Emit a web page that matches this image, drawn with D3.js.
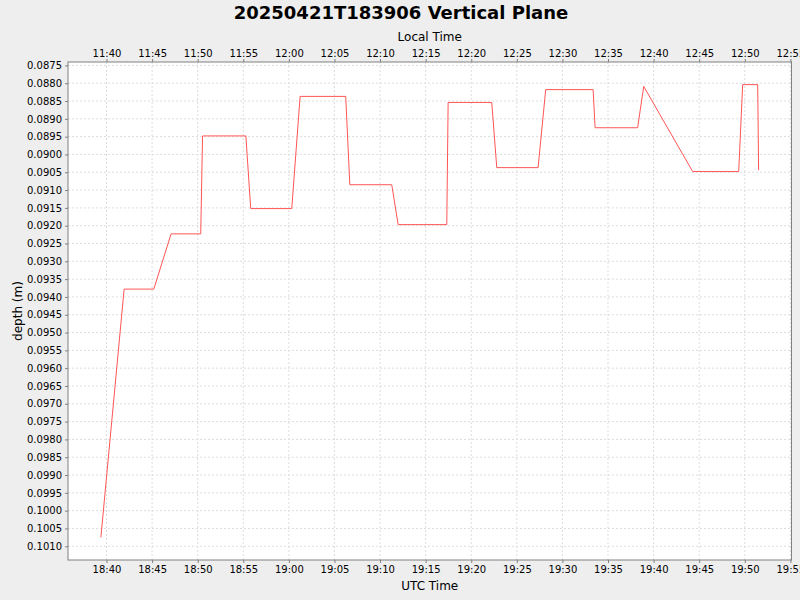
<!DOCTYPE html>
<html>
	<head>
		<meta charset="UTF-8">
		<script src="https://d3js.org/d3.v7.min.js"></script>
		<style>
			body { margin: 0; background: #EEEEEE; }
			.Chart text { font-family: "DejaVu Sans", sans-serif; fill: #000; }
			.Tick text { font-size: 10px; }
			.Grid line { stroke: #DDDDDD; stroke-dasharray: 2,2; }
		</style>
	</head>
	<body>
		<svg class="Chart"></svg>
		<script type="text/javascript">
			// UTC sample times (2025-04-21) and depth in metres
			var UtcTimes = ["18:39:23","18:41:56","18:45:11","18:47:05","18:50:20","18:50:32","18:55:17","18:55:49",
							"19:00:19","19:01:14","19:06:14","19:06:41","19:11:17","19:11:59","19:17:19","19:17:28",
							"19:22:15","19:22:48","19:27:20","19:28:10","19:33:22","19:33:35","19:38:15","19:38:55",
							"19:44:17","19:49:20","19:49:46","19:51:25","19:51:31"];
			var Depths = [0.10075,0.09378,0.09378,0.09223,0.09223,0.08948,0.08948,0.09152,
						  0.09152,0.08837,0.08837,0.09085,0.09085,0.09197,0.09197,0.08854,
						  0.08854,0.09037,0.09037,0.08818,0.08818,0.08925,0.08925,0.08809,
						  0.09048,0.09048,0.08804,0.08804,0.09044];
			var UtcTicks = ["18:40","18:45","18:50","18:55","19:00","19:05","19:10","19:15",
							"19:20","19:25","19:30","19:35","19:40","19:45","19:50","19:55"];
			var DepthTicks = d3.range(28).map(function(i){ return +(0.0875 + i*0.0005).toFixed(4); });
			var LocalOffsetHours = -7;

			var Width = 800, Height = 600;
			var Plot = {"Left":68, "Top":62, "Right":791.5, "Bottom":560};

			var ParseTime = function(s){ return new Date("2025-04-21T" + (s.length === 5 ? s + ":00" : s) + "Z"); };
			var DataArr = UtcTimes.map(function(t, i){ return {"Time":ParseTime(t), "Depth":Depths[i]}; });

			// 5% margin on both axes
			var TExt = d3.extent(DataArr, function(d){ return d.Time; });
			var TPad = (TExt[1] - TExt[0]) * 0.05;
			var DExt = d3.extent(DataArr, function(d){ return d.Depth; });
			var DPad = (DExt[1] - DExt[0]) * 0.05;

			var XScale = d3.scaleUtc()
							.domain([new Date(+TExt[0] - TPad), new Date(+TExt[1] + TPad)])
							.range([Plot.Left, Plot.Right]);
			var LocalScale = d3.scaleUtc()
							.domain(XScale.domain().map(function(d){ return new Date(+d + LocalOffsetHours*3600000); }))
							.range([Plot.Left, Plot.Right]);
			var YScale = d3.scaleLinear()
							.domain([DExt[0] - DPad, DExt[1] + DPad])
							.range([Plot.Top, Plot.Bottom]);

			var XTickVals = UtcTicks.map(ParseTime);
			var LocalTickVals = XTickVals.map(function(d){ return new Date(+d + LocalOffsetHours*3600000); });

			var Svg = d3.select(".Chart").attr("width", Width).attr("height", Height);

			Svg.append("rect")
				.attr("x", Plot.Left).attr("y", Plot.Top)
				.attr("width", Plot.Right - Plot.Left).attr("height", Plot.Bottom - Plot.Top)
				.attr("fill", "#FFFFFF");

			var Grid = Svg.append("g").attr("class", "Grid");
			Grid.selectAll(".V")
				.data(XTickVals)
				.enter()
				.append("line")
				.attr("x1", function(d){ return XScale(d); }).attr("x2", function(d){ return XScale(d); })
				.attr("y1", Plot.Top).attr("y2", Plot.Bottom);
			Grid.selectAll(".H")
				.data(DepthTicks)
				.enter()
				.append("line")
				.attr("y1", function(d){ return YScale(d); }).attr("y2", function(d){ return YScale(d); })
				.attr("x1", Plot.Left).attr("x2", Plot.Right);

			var Line = d3.line()
							.x(function(d){ return XScale(d.Time); })
							.y(function(d){ return YScale(d.Depth); });
			Svg.append("path")
				.datum(DataArr)
				.attr("d", Line)
				.attr("fill", "none")
				.attr("stroke", "#FF5555")
				.attr("stroke-width", 1);

			Svg.append("rect")
				.attr("x", Plot.Left).attr("y", Plot.Top)
				.attr("width", Plot.Right - Plot.Left).attr("height", Plot.Bottom - Plot.Top)
				.attr("fill", "none").attr("stroke", "#808080").attr("stroke-width", 1);

			function StyleAxis(G)
			{
				G.attr("class", "Tick");
				G.select(".domain").remove();
				G.selectAll("line").attr("stroke", "#808080");
				G.selectAll("text").style("font-family", "DejaVu Sans, sans-serif").style("font-size", "10px").attr("fill", "#000");
			}

			Svg.append("g")
				.attr("transform", "translate(0," + Plot.Bottom + ")")
				.call(d3.axisBottom(XScale).tickValues(XTickVals).tickFormat(d3.utcFormat("%H:%M")).tickSize(3).tickPadding(3))
				.call(StyleAxis);

			Svg.append("g")
				.attr("transform", "translate(0," + Plot.Top + ")")
				.call(d3.axisTop(LocalScale).tickValues(LocalTickVals).tickFormat(d3.utcFormat("%H:%M")).tickSize(3).tickPadding(2))
				.call(StyleAxis);

			Svg.append("g")
				.attr("transform", "translate(" + Plot.Left + ",0)")
				.call(d3.axisLeft(YScale).tickValues(DepthTicks).tickFormat(d3.format(".4f")).tickSize(3).tickPadding(3))
				.call(StyleAxis);

			Svg.append("text")
				.attr("x", 401).attr("y", 19)
				.attr("text-anchor", "middle")
				.style("font-size", "18px").style("font-weight", "bold")
				.text("20250421T183906 Vertical Plane");

			Svg.append("text")
				.attr("x", (Plot.Left + Plot.Right)/2).attr("y", 41)
				.attr("text-anchor", "middle")
				.style("font-size", "12px")
				.text("Local Time");

			Svg.append("text")
				.attr("x", (Plot.Left + Plot.Right)/2).attr("y", 590)
				.attr("text-anchor", "middle")
				.style("font-size", "12px")
				.text("UTC Time");

			Svg.append("text")
				.attr("transform", "translate(22," + ((Plot.Top + Plot.Bottom)/2) + ") rotate(-90)")
				.attr("text-anchor", "middle")
				.style("font-size", "12px")
				.text("depth (m)");
		</script>
	</body>
</html>
